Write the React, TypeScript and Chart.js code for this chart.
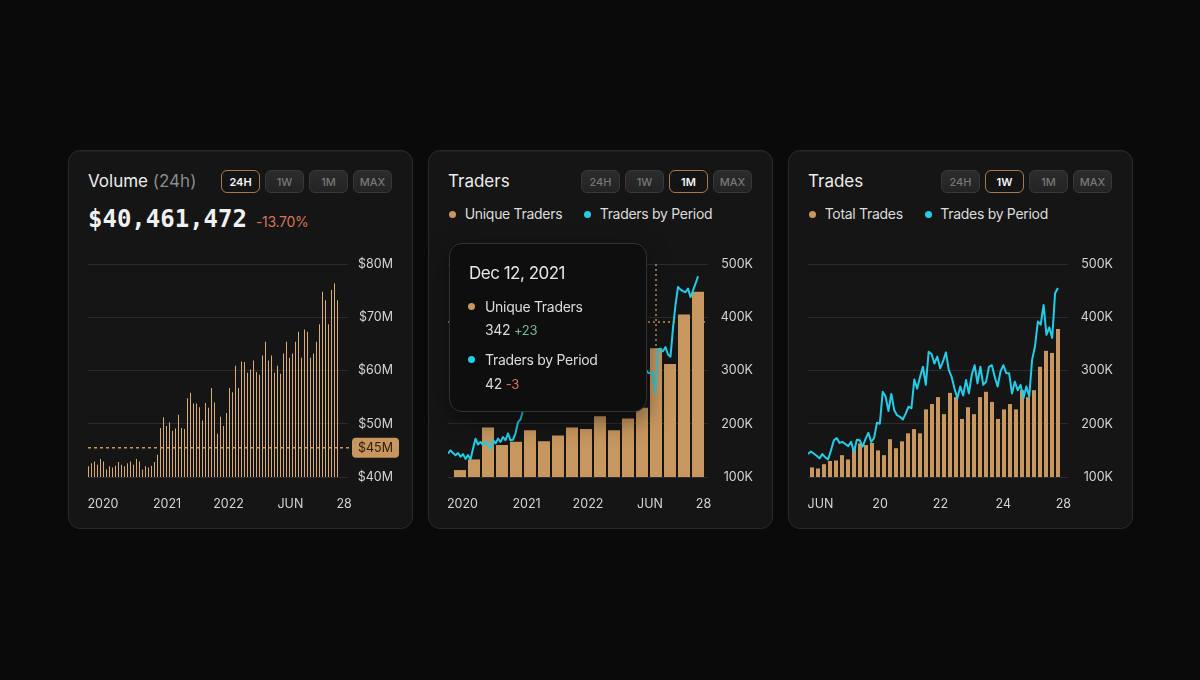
import React, { useEffect, useRef } from 'react';
import { Chart, registerables } from 'chart.js';

Chart.register(...registerables);

// ---------------- data ----------------
// Panel 1: Volume (24h), $M per bar
const volumeValues = [
  42.0, 42.6, 42.9, 42.3, 43.4, 42.9, 41.4, 42.0, 41.8, 42.1,
  42.8, 42.3, 42.0, 42.6, 42.9, 42.3, 43.4, 42.9, 41.4, 42.0,
  41.8, 42.1, 42.8, 44.2, 49.2, 51.2, 49.6, 50.3, 48.7, 49.1,
  51.7, 49.2, 49.0, 54.8, 55.8, 53.8, 53.8, 53.1, 50.6, 53.9,
  53.0, 56.7, 54.0, 48.1, 51.3, 49.6, 52.0, 56.7, 55.9, 60.9,
  56.7, 61.7, 61.6, 59.6, 60.2, 61.9, 59.7, 59.2, 62.8, 65.4,
  61.9, 62.8, 59.6, 60.9, 59.4, 63.2, 65.4, 62.4, 63.2, 65.4,
  67.3, 62.4, 67.7, 67.3, 62.4, 63.2, 65.4, 68.7, 74.8, 73.2,
  68.7, 75.1, 76.4, 73.2,
];
const volumeTickLabels = ['2020', '2021', '2022', 'JUN', '28'];
const volumeTickPositions = [4.8, 26.2, 46.7, 67.3, 85.2];
const volumeRange = [40, 80];
const volumeRefValue = 45.5;
const volumeRefLabel = '$45M';

// Panel 2: Traders (K)
const uniqueTraders = [113, 133, 193, 160, 166, 188, 167, 178, 193, 190, 214, 188, 210, 230, 342, 312, 405, 448];
const tradersByPeriod = [
  144, 150, 145, 141, 145, 138, 143, 134, 141, 133, 153, 172, 161, 166, 160, 166, 160, 153, 170, 163,
  172, 166, 175, 169, 182, 169, 170, 182, 203, 208, 225,
  231, 246, 238, 252, 243, 236, 249, 258, 247, 262,
  255, 244, 259, 268, 256, 271, 263, 252, 266, 274,
  262, 279, 270, 258, 273, 284, 276, 291, 280, 268,
  284, 295, 283, 301, 289, 277, 292, 305, 294, 310,
  298, 286, 303, 315, 300, 288, 309, 318, 302, 296,
  294, 297, 257, 340, 341, 336, 344, 330, 326, 380, 423, 457, 452, 449, 447, 454, 438, 450, 463, 477,
];
const tradersTickLabels = ['2020', '2021', '2022', 'JUN', '28'];
const tradersTickPositions = [5.8, 31.4, 56.0, 80.8, 102.2];
const tradersCrosshair = [83.2, 391];

// Panel 3: Trades (K)
const totalTrades = [
  118, 116, 124, 130, 131, 141, 133, 153, 163, 160,
  164, 150, 141, 171, 154, 167, 182, 190, 182, 227,
  237, 250, 218, 258, 250, 209, 231, 218, 250, 260,
  241, 209, 227, 237, 227, 263, 250, 263, 307, 337,
  333, 378,
];
const tradesByPeriod = [
  143, 148, 144, 140, 135, 143, 137, 133, 150, 169,
  173, 164, 166, 162, 158, 166, 147, 170, 169, 157,
  171, 183, 166, 173, 202, 200, 260, 251, 224, 256,
  226, 216, 213, 208, 219, 232, 229, 283, 266, 288,
  307, 273, 335, 331, 313, 326, 304, 317, 334, 301,
  288, 266, 248, 270, 253, 282, 257, 292, 310, 276,
  307, 273, 279, 307, 310, 288, 270, 298, 310, 295,
  295, 257, 279, 263, 273, 248, 270, 251, 320, 345,
  392, 386, 423, 367, 381, 361, 445, 455,
];
const tradesTickLabels = ['JUN', '20', '22', '24', '28'];
const tradesTickPositions = [4.35, 25.1, 46.1, 68.0, 88.9];
const countRange = [100, 500];

// ---------------- styles ----------------
const PAGE_BG = '#0a0a0a';
const CARD_BG = '#151515';
const CARD_BORDER = '#2a2a2a';
const GRID = '#2c2c2c';
const TICK = '#d4d4d4';
const TAN = '#c8975f';
const TAN_THIN = '#d9ac77';
const CYAN = '#22cde9';
const RED = '#d8735a';
const GREEN = '#79b894';
const tickFont = { family: 'Inter', size: 12.5 };

function xLabelAxis(min: number, max: number, positions: number[], labels: string[]) {
  return {
    type: 'linear',
    min,
    max,
    offset: false,
    bounds: 'data',
    grid: { display: false, drawTicks: false, offset: false },
    border: { display: false },
    afterBuildTicks: (axis: any) => {
      axis.ticks = positions.map((value) => ({ value }));
    },
    afterFit: (axis: any) => {
      axis.height = 36;
      axis.paddingLeft = 0;
      axis.paddingRight = 0;
    },
    ticks: {
      autoSkip: false,
      maxRotation: 0,
      minRotation: 0,
      padding: 20,
      color: TICK,
      font: tickFont,
      callback: (_v: any, i: number) => labels[i],
    },
  };
}

function yAxis(range: number[], step: number, fmt: (v: number) => string) {
  return {
    position: 'right',
    min: range[0],
    max: range[1],
    grid: { color: GRID, drawTicks: false, lineWidth: 1 },
    border: { display: false },
    afterFit: (axis: any) => {
      axis.width = 45;
    },
    ticks: {
      stepSize: step,
      crossAlign: 'far',
      color: TICK,
      font: tickFont,
      callback: (v: any) => fmt(Number(v)),
    },
  };
}

const layoutPadding = { left: 4, right: 9, top: 14, bottom: 0 };

function makeVolumeChart(canvas: HTMLCanvasElement) {
  const refPlugin = {
    id: 'refLine',
    afterDatasetsDraw(chart: any) {
      const { ctx, chartArea, scales } = chart;
      const y = scales.y.getPixelForValue(volumeRefValue);
      ctx.save();
      ctx.strokeStyle = TAN;
      ctx.lineWidth = 1.5;
      ctx.setLineDash([3, 3]);
      ctx.beginPath();
      ctx.moveTo(chartArea.left, y);
      ctx.lineTo(chartArea.right + 4, y);
      ctx.stroke();
      ctx.setLineDash([]);
      const bx = chartArea.right + 4;
      const bw = 47;
      const bh = 20;
      ctx.fillStyle = TAN;
      ctx.beginPath();
      ctx.roundRect(bx, y - bh / 2, bw, bh, 4);
      ctx.fill();
      ctx.fillStyle = '#2a1c0e';
      ctx.font = '12.5px Inter';
      ctx.textAlign = 'center';
      ctx.textBaseline = 'middle';
      ctx.fillText(volumeRefLabel, bx + bw / 2, y + 0.5);
      ctx.restore();
    },
  };
  return new Chart(canvas, {
    type: 'bar',
    data: {
      datasets: [
        {
          data: volumeValues.map((v, i) => ({ x: i, y: v })),
          backgroundColor: TAN_THIN,
          barThickness: 1,
          inflateAmount: 0,
          borderWidth: 0,
          xAxisID: 'x',
          yAxisID: 'y',
        },
      ],
    },
    options: {
      animation: false,
      responsive: false,
      maintainAspectRatio: false,
      layout: { padding: layoutPadding },
      plugins: { legend: { display: false }, tooltip: { enabled: false } },
      scales: {
        x: xLabelAxis(-1 / 6, -1 / 6 + 260 / 3, volumeTickPositions, volumeTickLabels),
        y: yAxis(volumeRange, 10, (v) => `$${v}M`),
      },
    } as any,
    plugins: [refPlugin],
  });
}

function makeComboChart(
  canvas: HTMLCanvasElement,
  bars: number[],
  line: number[],
  barMin: number,
  barMax: number,
  barWidth: number,
  lineMax: number,
  tickPos: number[],
  tickLabels: string[],
  crosshair?: number[],
) {
  const plugins: any[] = [];
  if (crosshair) {
    plugins.push({
      id: 'crosshair',
      afterDatasetsDraw(chart: any) {
        const { ctx, chartArea, scales } = chart;
        const x = scales.xl.getPixelForValue(crosshair[0]);
        const y = scales.y.getPixelForValue(crosshair[1]);
        ctx.save();
        ctx.strokeStyle = TAN;
        ctx.lineWidth = 1.5;
        ctx.setLineDash([2, 3]);
        ctx.beginPath();
        ctx.moveTo(x, chartArea.top);
        ctx.lineTo(x, chartArea.bottom);
        ctx.moveTo(chartArea.left, y);
        ctx.lineTo(chartArea.right, y);
        ctx.stroke();
        ctx.restore();
      },
    });
  }
  return new Chart(canvas, {
    type: 'bar',
    data: {
      datasets: [
        {
          type: 'line',
          data: line.map((v, i) => ({ x: i, y: v })),
          borderColor: CYAN,
          borderWidth: 2,
          pointRadius: 0,
          tension: 0,
          borderJoinStyle: 'round',
          xAxisID: 'xl',
          yAxisID: 'y',
          order: 0,
        },
        {
          type: 'bar',
          data: bars.map((v, i) => ({ x: i, y: v })),
          backgroundColor: TAN,
          barThickness: barWidth,
          inflateAmount: 0,
          xAxisID: 'xb',
          yAxisID: 'y',
          order: 1,
        },
      ],
    },
    options: {
      animation: false,
      responsive: false,
      maintainAspectRatio: false,
      layout: { padding: layoutPadding },
      plugins: { legend: { display: false }, tooltip: { enabled: false } },
      scales: {
        xl: xLabelAxis(0, lineMax, tickPos, tickLabels),
        xb: {
          type: 'linear',
          axis: 'x',
          min: barMin,
          max: barMax,
          offset: false,
          bounds: 'data',
          display: false,
          grid: { offset: false },
        },
        y: yAxis(countRange, 100, (v) => `${v}K`),
      },
    } as any,
    plugins,
  });
}

// ---------------- components ----------------
function Card({ left, children }: { left: number; children: any }) {
  return (
    <div
      style={{
        position: 'absolute',
        left,
        top: 150,
        width: 345,
        height: 379,
        boxSizing: 'border-box',
        border: `1px solid ${CARD_BORDER}`,
        borderRadius: 12,
        background: CARD_BG,
        fontFamily: 'Inter',
        color: '#ececec',
        boxShadow: 'inset 0 1px 0 rgba(255,255,255,0.03)',
      }}
    >
      {children}
    </div>
  );
}

function Buttons({ active }: { active: string }) {
  const labels = ['24H', '1W', '1M', 'MAX'];
  return (
    <>
      {labels.map((l, i) => {
        const on = l === active;
        return (
          <div
            key={l}
            style={{
              position: 'absolute',
              left: 152 + i * 44,
              top: 19,
              width: 39,
              height: 23,
              boxSizing: 'border-box',
              borderRadius: 6,
              border: `1px solid ${on ? '#a8784f' : '#383838'}`,
              background: on ? '#141414' : 'linear-gradient(#2c2c2c, #232323)',
              color: on ? '#f4f4f4' : '#777',
              font: `${on ? 600 : 500} 11px Inter`,
              display: 'flex',
              alignItems: 'center',
              justifyContent: 'center',
            }}
          >
            {l}
          </div>
        );
      })}
    </>
  );
}

function Title({ children }: { children: any }) {
  return (
    <div style={{ position: 'absolute', left: 19, top: 20, font: '17px Inter', lineHeight: '20px', color: '#ececec', whiteSpace: 'nowrap' }}>
      {children}
    </div>
  );
}

function Dot({ left, top, color, size = 7 }: { left: number; top: number; color: string; size?: number }) {
  return <div style={{ position: 'absolute', left, top, width: size, height: size, borderRadius: '50%', background: color }} />;
}

const labelText: any = { font: '14px Inter', lineHeight: '18px', color: '#dcdcdc', letterSpacing: '-0.3px', whiteSpace: 'nowrap' };

function Legend({ items }: { items: { label: string; color: string; dot: number; text: number }[] }) {
  return (
    <>
      {items.map((it) => (
        <React.Fragment key={it.label}>
          <Dot left={it.dot} top={60} color={it.color} />
          <div style={{ position: 'absolute', left: it.text, top: 53.5, ...labelText }}>{it.label}</div>
        </React.Fragment>
      ))}
    </>
  );
}

const canvasStyle: any = { position: 'absolute', left: 15, top: 99, width: 318, height: 263 };

export default function App() {
  const c1 = useRef<HTMLCanvasElement>(null);
  const c2 = useRef<HTMLCanvasElement>(null);
  const c3 = useRef<HTMLCanvasElement>(null);

  useEffect(() => {
    const charts = [
      makeVolumeChart(c1.current!),
      makeComboChart(c2.current!, uniqueTraders, tradersByPeriod, -6 / 14, -6 / 14 + 260 / 14, 12, 104, tradersTickPositions, tradersTickLabels, tradersCrosshair),
      makeComboChart(c3.current!, totalTrades, tradesByPeriod, -2 / 6, -2 / 6 + 260 / 6, 4, 90.5, tradesTickPositions, tradesTickLabels),
    ];
    return () => charts.forEach((c) => c.destroy());
  }, []);

  return (
    <div style={{ position: 'fixed', left: 0, top: 0, width: 1200, height: 680, background: PAGE_BG, overflow: 'hidden' }}>
      <Card left={68}>
        <Title>
          Volume <span style={{ color: '#8a8a8a' }}>(24h)</span>
        </Title>
        <Buttons active="24H" />
        <div style={{ position: 'absolute', left: 19, top: 54, display: 'flex', alignItems: 'baseline', whiteSpace: 'nowrap' }}>
          <span style={{ font: 'bold 24px "DejaVu Sans Mono"', lineHeight: '28px', color: '#f0f0f0' }}>$40,461,472</span>
          <span style={{ marginLeft: 9, font: '14px Inter', letterSpacing: '-0.3px', color: RED }}>-13.70%</span>
        </div>
        <canvas ref={c1} width={318} height={263} style={canvasStyle} />
      </Card>

      <Card left={428}>
        <Title>Traders</Title>
        <Buttons active="1M" />
        <Legend
          items={[
            { label: 'Unique Traders', color: TAN, dot: 19.5, text: 35.7 },
            { label: 'Traders by Period', color: CYAN, dot: 154.5, text: 170.7 },
          ]}
        />
        <canvas ref={c2} width={318} height={263} style={canvasStyle} />
        <div
          style={{
            position: 'absolute',
            left: 20,
            top: 92,
            width: 198,
            height: 169,
            boxSizing: 'border-box',
            border: '1px solid #323232',
            borderRadius: 13,
            background: '#0e0e0e',
            boxShadow: '0 8px 24px rgba(0,0,0,0.45)',
            whiteSpace: 'nowrap',
          }}
        >
          <div style={{ position: 'absolute', left: 19, top: 18, font: '17px Inter', lineHeight: '22px', letterSpacing: '-0.5px', color: '#e6e6e6' }}>Dec 12, 2021</div>
          <Dot left={18} top={59} color={TAN} />
          <div style={{ position: 'absolute', left: 35, top: 54, ...labelText }}>Unique Traders</div>
          <div style={{ position: 'absolute', left: 35, top: 77, ...labelText, color: '#d8d8d8' }}>
            342 <span style={{ color: GREEN, fontSize: 13 }}>+23</span>
          </div>
          <Dot left={18} top={112} color={CYAN} />
          <div style={{ position: 'absolute', left: 35, top: 107, ...labelText }}>Traders by Period</div>
          <div style={{ position: 'absolute', left: 35, top: 131, ...labelText, color: '#d8d8d8' }}>
            42 <span style={{ color: RED, fontSize: 13 }}>-3</span>
          </div>
        </div>
      </Card>

      <Card left={788}>
        <Title>Trades</Title>
        <Buttons active="1W" />
        <Legend
          items={[
            { label: 'Total Trades', color: TAN, dot: 19.5, text: 35.7 },
            { label: 'Trades by Period', color: CYAN, dot: 135.5, text: 151.3 },
          ]}
        />
        <canvas ref={c3} width={318} height={263} style={canvasStyle} />
      </Card>
    </div>
  );
}
